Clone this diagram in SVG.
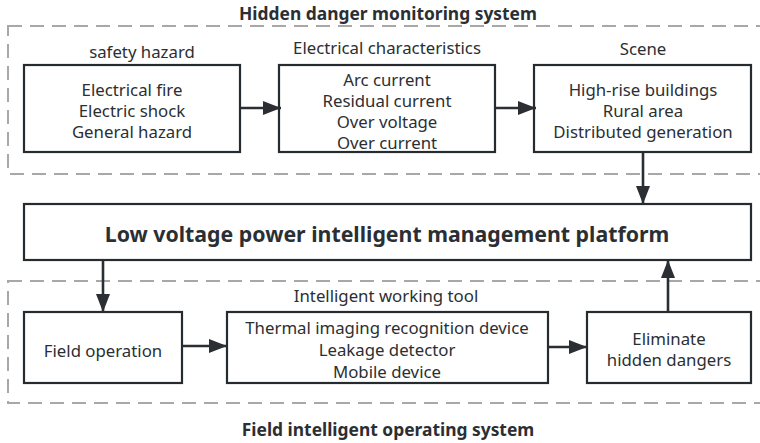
<svg xmlns="http://www.w3.org/2000/svg" width="760" height="443" viewBox="0 0 760 443">
  <style>
    text { font-family: "Noto Sans", "Open Sans", "DejaVu Sans", sans-serif; fill: #2b2f33; text-anchor: middle; dominant-baseline: central; }
    .t { font-size: 16.8px; }
    .title { font-size: 17.4px; font-weight: bold; }
    .big { font-size: 21.3px; font-weight: bold; }
    .box { fill: #ffffff; stroke: #262b30; stroke-width: 2.2; }
    .zone { fill: none; stroke: #a8a8a8; stroke-width: 2; stroke-dasharray: 14 8; }
  </style>
  <defs>
    <marker id="arrowhead" viewBox="0 0 18 14" refX="18" refY="7" markerWidth="18" markerHeight="14" markerUnits="userSpaceOnUse" orient="auto">
      <path d="M0,0 L18,7 L0,14 z" fill="#2b2f33"/>
    </marker>
  </defs>

  <!-- system zones -->
  <g id="monitoring-zone">
    <rect class="zone" x="8" y="26" width="770" height="148"/>
    <text class="title" x="388" y="13">Hidden danger monitoring system</text>
  </g>
  <g id="operating-zone">
    <rect class="zone" x="8" y="281" width="770" height="122"/>
    <text class="title" x="388" y="429">Field intelligent operating system</text>
  </g>

  <g id="safety-hazard">
    <text class="t" x="142" y="51">safety hazard</text>
    <rect class="box" x="24" y="65" width="216" height="87"/>
    <text class="t" x="132" y="89">Electrical fire</text>
    <text class="t" x="132" y="110">Electric shock</text>
    <text class="t" x="132" y="131">General hazard</text>
  </g>

  <g id="electrical-characteristics">
    <text class="t" x="387" y="47">Electrical characteristics</text>
    <rect class="box" x="279" y="65" width="216" height="87"/>
    <text class="t" x="387" y="79">Arc current</text>
    <text class="t" x="387" y="100">Residual current</text>
    <text class="t" x="387" y="121">Over voltage</text>
    <text class="t" x="387" y="142">Over current</text>
  </g>

  <g id="scene">
    <text class="t" x="643" y="48">Scene</text>
    <rect class="box" x="534" y="65" width="217" height="87"/>
    <text class="t" x="643" y="89">High-rise buildings</text>
    <text class="t" x="643" y="110">Rural area</text>
    <text class="t" x="643" y="131">Distributed generation</text>
  </g>

  <g id="platform">
    <rect class="box" x="24" y="204" width="727" height="56"/>
    <text class="big" x="387" y="233">Low voltage power intelligent management platform</text>
  </g>

  <g id="field-operation">
    <rect class="box" x="24" y="312" width="158" height="71"/>
    <text class="t" x="103" y="350">Field operation</text>
  </g>

  <g id="working-tool">
    <text class="t" x="386" y="295">Intelligent working tool</text>
    <rect class="box" x="227" y="312" width="321" height="71"/>
    <text class="t" x="387" y="327">Thermal imaging recognition device</text>
    <text class="t" x="387" y="349">Leakage detector</text>
    <text class="t" x="387" y="371">Mobile device</text>
  </g>

  <g id="eliminate">
    <rect class="box" x="587" y="312" width="164" height="71"/>
    <text class="t" x="669" y="338">Eliminate</text>
    <text class="t" x="669" y="359">hidden dangers</text>
  </g>

  <!-- connectors -->
  <g id="connectors" fill="none" stroke="#2b2f33" stroke-width="2.6">
    <line x1="241" y1="108" x2="281" y2="108" marker-end="url(#arrowhead)"/>
    <line x1="496" y1="108" x2="536" y2="108" marker-end="url(#arrowhead)"/>
    <line x1="643" y1="153" x2="643" y2="204" marker-end="url(#arrowhead)"/>
    <line x1="103" y1="261" x2="103" y2="312" marker-end="url(#arrowhead)"/>
    <line x1="183" y1="346" x2="227" y2="346" marker-end="url(#arrowhead)"/>
    <line x1="549" y1="347" x2="587" y2="347" marker-end="url(#arrowhead)"/>
    <line x1="668" y1="311" x2="668" y2="260" marker-end="url(#arrowhead)"/>
  </g>
</svg>
